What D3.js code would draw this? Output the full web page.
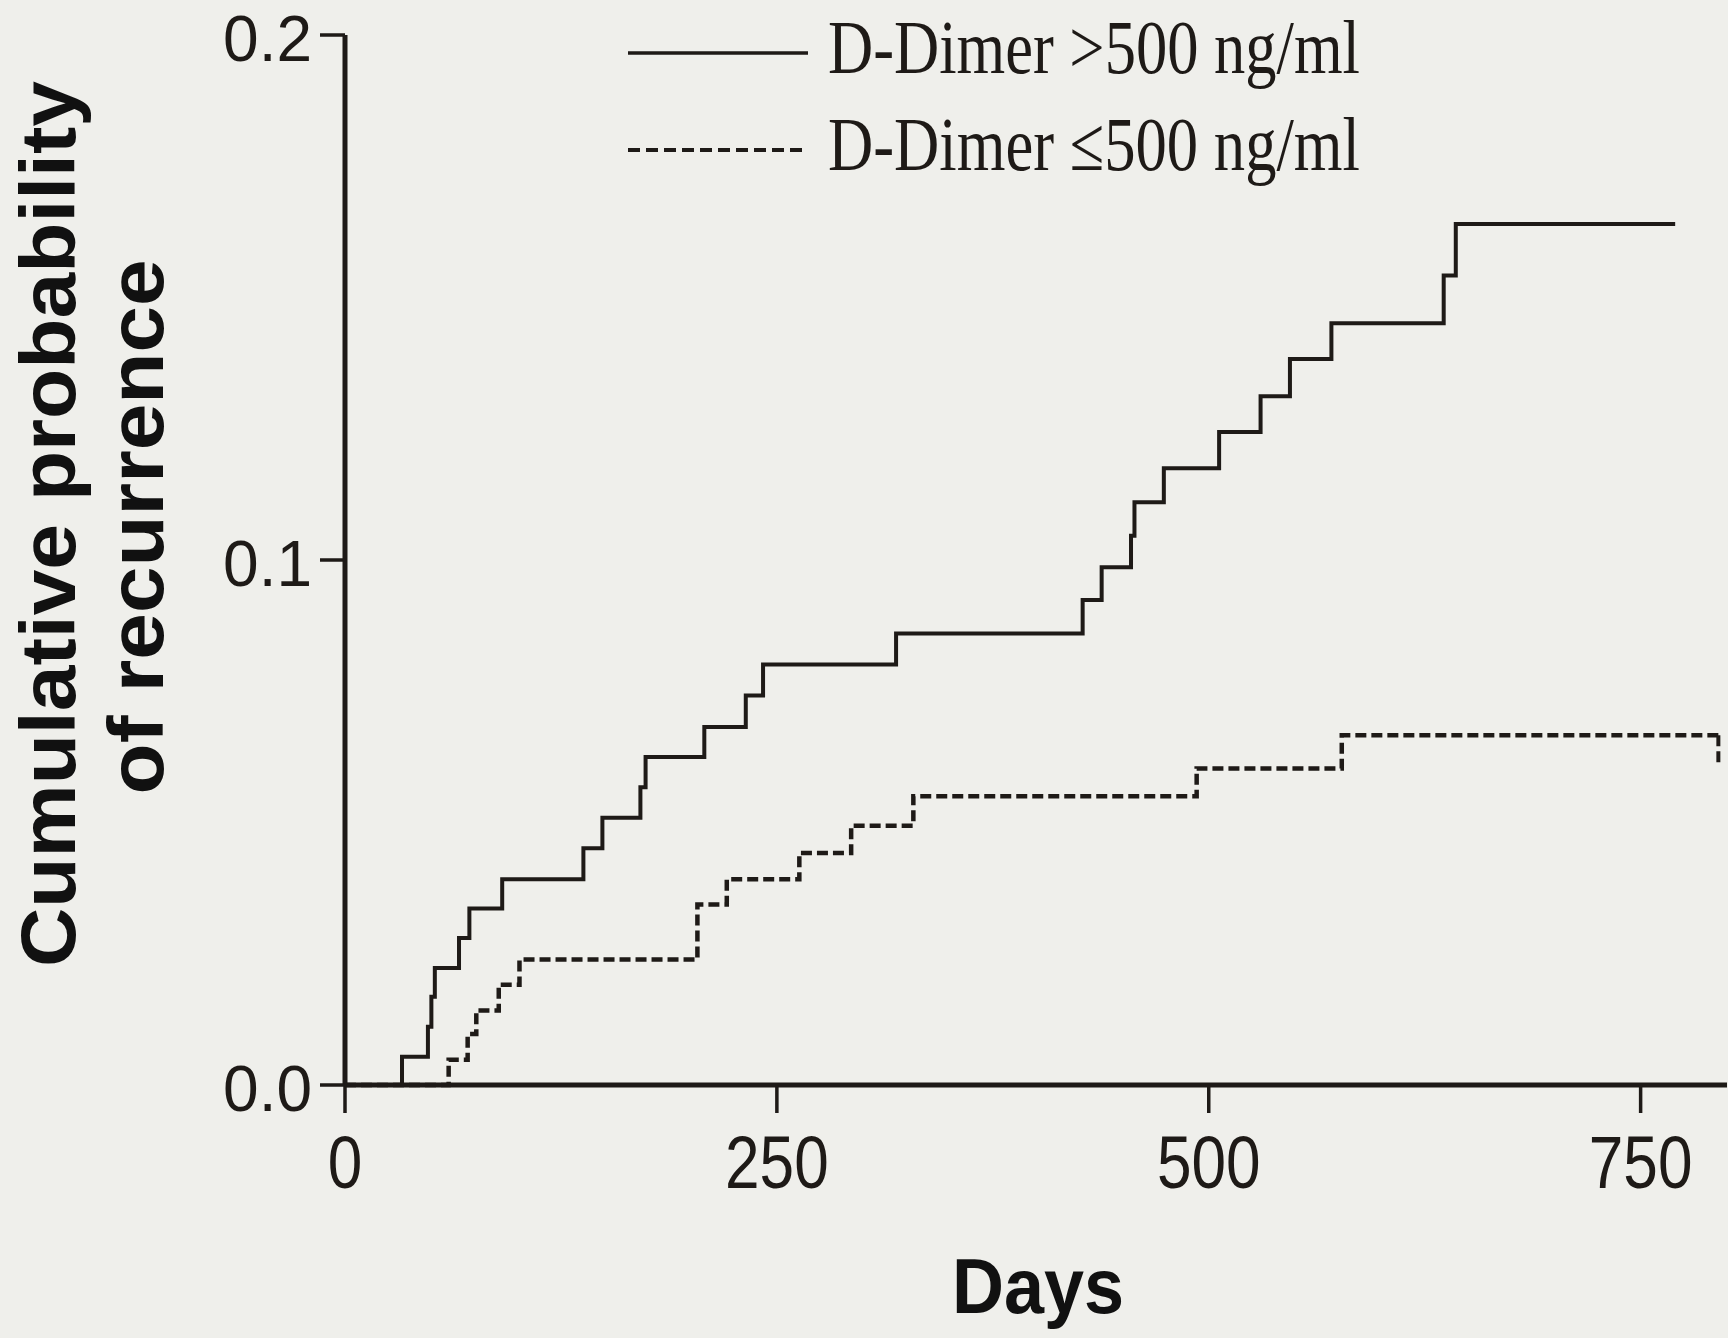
<!DOCTYPE html>
<style>
  body { margin: 0; background: #efefeb; }
  .tick text { font-family: "Liberation Sans", Arial, sans-serif; fill: #1e1a17; }
  .axisTitle { font-family: "Liberation Sans", Arial, sans-serif; font-weight: bold; fill: #111; }
  .legendText { font-family: "Liberation Serif", "Times New Roman", serif; fill: #1e1a17; }
</style>
<svg width="1728" height="1338"></svg>
<script src="https://d3js.org/d3.v7.min.js"></script>
<script>

// D-Dimer > 500 ng/ml (solid)
var highDays = [0, 33, 48, 50, 52, 66, 72, 91, 138, 149, 171, 174, 208, 232, 242, 319, 427, 438, 455, 457, 474, 506, 530, 547, 571, 636, 643, 770];
var highProb = [0, 0.0054, 0.0111, 0.0168, 0.0223, 0.028, 0.0336, 0.0392, 0.0451, 0.0509, 0.0567, 0.0625, 0.0682, 0.0742, 0.0801, 0.086, 0.0924, 0.0986, 0.1046, 0.111, 0.1175, 0.1244, 0.1312, 0.1383, 0.1451, 0.1542, 0.164, 0.164];

// D-Dimer <= 500 ng/ml (dashed)
var lowDays = [0, 60, 71, 76, 89, 101, 204, 221, 263, 293, 329, 493, 577, 795];
var lowProb = [0, 0.0048, 0.0097, 0.0142, 0.0191, 0.0239, 0.0344, 0.0392, 0.0442, 0.0494, 0.055, 0.0603, 0.0666, 0.0666];

var xTicks = [0, 250, 500, 750];
var yTicks = [0, 0.1, 0.2];
var legendLabels = ["D-Dimer >500 ng/ml", "D-Dimer \u2264500 ng/ml"];

var ink = "#1e1a17";
var svg = d3.select("svg");

var x = d3.scaleLinear().domain([0, 800]).range([345, 1727]);
var y = d3.scaleLinear().domain([0, 0.2]).range([1085, 35]);

// curves
var line = d3.line()
    .x(function(d) { return x(d[0]); })
    .y(function(d) { return y(d[1]); })
    .curve(d3.curveStepAfter);

var highData = d3.zip(highDays, highProb);
var lowData = d3.zip(lowDays, lowProb);

svg.append("path")
    .datum(lowData)
    .attr("fill", "none")
    .attr("stroke", ink)
    .attr("stroke-width", 4.5)
    .attr("stroke-dasharray", "11,5")
    .attr("d", line);

// censor tick at the end of the dashed curve
var lastLow = lowData[lowData.length - 1];
svg.append("line")
    .attr("x1", x(lastLow[0])).attr("x2", x(lastLow[0]))
    .attr("y1", y(lastLow[1])).attr("y2", y(lastLow[1]) + 30)
    .attr("stroke", ink)
    .attr("stroke-width", 4)
    .attr("stroke-dasharray", "11,5");

svg.append("path")
    .datum(highData)
    .attr("fill", "none")
    .attr("stroke", ink)
    .attr("stroke-width", 4)
    .attr("d", line);

// axes (drawn over the curves' baseline)
var xAxis = svg.append("g")
    .attr("transform", "translate(0," + y(0) + ")")
    .call(d3.axisBottom(x).tickValues(xTicks).tickSize(28).tickSizeOuter(0).tickPadding(22).offset(0).tickFormat(d3.format("d")));

var yAxis = svg.append("g")
    .attr("transform", "translate(" + x(0) + ",0)")
    .call(d3.axisLeft(y).tickValues(yTicks).tickSize(25).tickSizeOuter(0).tickPadding(8).offset(0).tickFormat(d3.format(".1f")));

[xAxis, yAxis].forEach(function(a) {
  a.select(".domain").attr("stroke", ink).attr("stroke-width", 5);
  a.selectAll(".tick line").attr("stroke", ink).attr("stroke-width", 3.5);
});
xAxis.selectAll(".tick text").attr("font-size", 74).attr("transform", "scale(0.84,1)");
yAxis.selectAll(".tick text").attr("font-size", 64).attr("dy", "0.4em");

// axis titles
svg.append("text")
    .attr("class", "axisTitle")
    .attr("x", 1038)
    .attr("y", 1313)
    .attr("font-size", 78)
    .attr("text-anchor", "middle")
    .attr("textLength", 172)
    .attr("lengthAdjust", "spacingAndGlyphs")
    .text("Days");

svg.append("text")
    .attr("class", "axisTitle")
    .attr("transform", "translate(75,524) rotate(-90)")
    .attr("font-size", 78)
    .attr("text-anchor", "middle")
    .attr("textLength", 886)
    .attr("lengthAdjust", "spacingAndGlyphs")
    .text("Cumulative probability");

svg.append("text")
    .attr("class", "axisTitle")
    .attr("transform", "translate(163,527) rotate(-90)")
    .attr("font-size", 78)
    .attr("text-anchor", "middle")
    .attr("textLength", 535)
    .attr("lengthAdjust", "spacingAndGlyphs")
    .text("of recurrence");

// legend
var legend = svg.append("g");
legendLabels.forEach(function(label, i) {
  var ly = 53 + i * 97;
  legend.append("line")
      .attr("x1", 628).attr("x2", 808)
      .attr("y1", ly).attr("y2", ly)
      .attr("stroke", ink)
      .attr("stroke-width", i == 0 ? 3.5 : 4)
      .attr("stroke-dasharray", i == 0 ? null : "12,6");
  legend.append("text")
      .attr("class", "legendText")
      .attr("x", 828)
      .attr("y", ly + 20)
      .attr("font-size", 77)
      .attr("textLength", 532)
      .attr("lengthAdjust", "spacingAndGlyphs")
      .text(label);
});

</script>
